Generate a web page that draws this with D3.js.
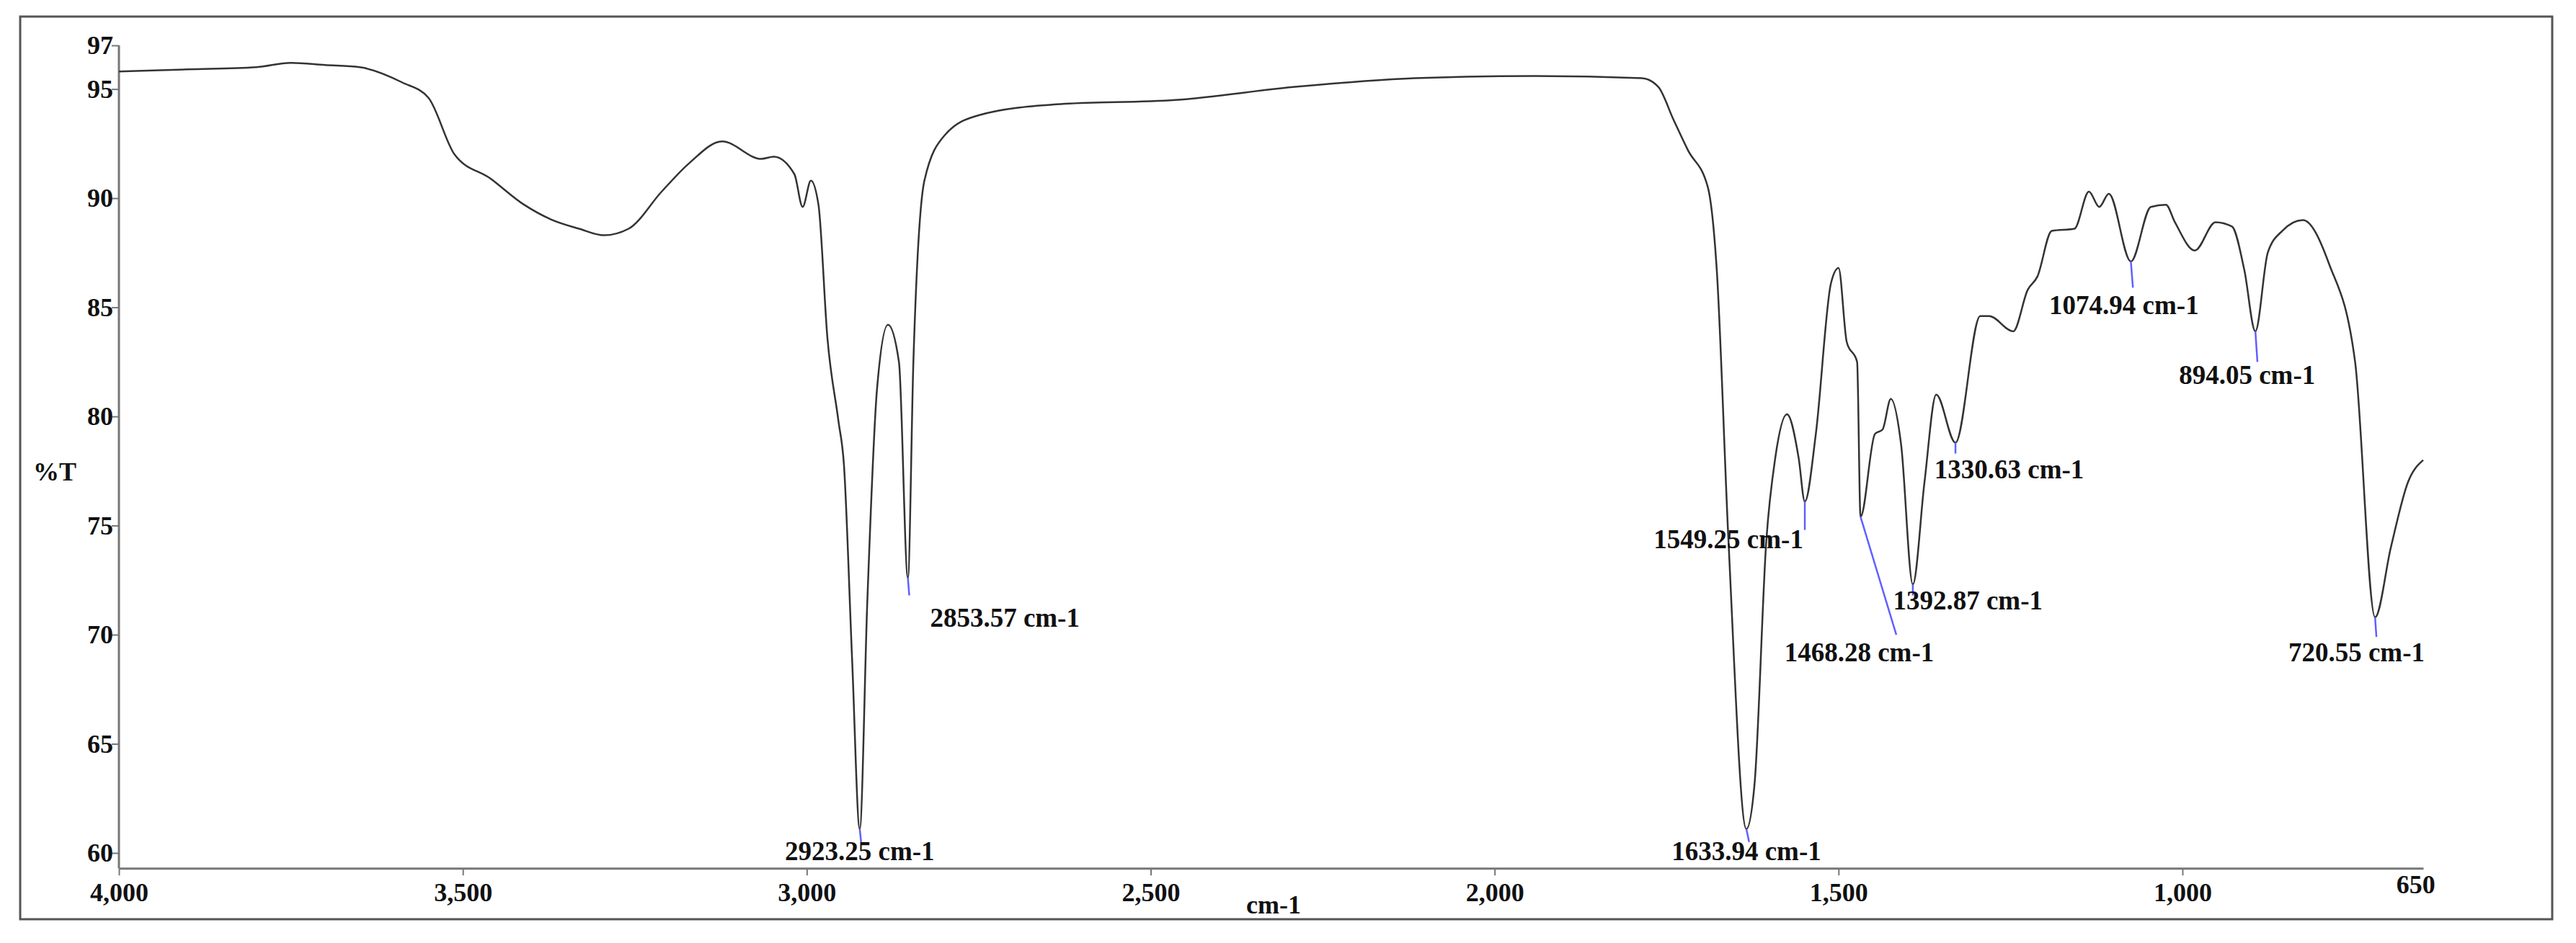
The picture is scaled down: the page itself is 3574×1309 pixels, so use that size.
<!DOCTYPE html>
<meta charset="utf-8">
<title>IR spectrum</title>
<style>
body { margin:0; background:#fff; }
text { font-family: "Liberation Serif", "DejaVu Serif", serif; font-weight: bold; fill:#111; }
</style>
<body>
<script src="https://cdn.jsdelivr.net/npm/d3@7"></script>
<script>

var wavenumber = [4000,3900,3800,3750,3700,3650,3588,3550,3512,3460,3411,3370,3331,3295,3259,3211,3171,3123,3066,3048,3018,3006,2994,2983,2970,2954,2946,2934,2923,2912,2898,2882,2866,2853,2845,2829,2799,2750,2637,2464,2290,2116,1942,1786,1762,1740,1719,1690,1677,1660,1634,1622,1605,1592,1575,1558,1549,1533,1511,1500,1488,1473,1468,1447,1436,1424,1409,1392,1375,1358,1330,1294,1281,1246,1225,1211,1190,1157,1136,1121,1107,1075,1046,1024,1011,982,952,928,910,894,876,855,825,787,749,720,697,672,650];
var transmittance = [95.8,95.9,96.0,96.2,96.1,96.0,95.3,94.6,92.0,90.9,89.7,89.0,88.6,88.3,88.6,90.3,91.6,92.6,91.8,91.9,91.1,89.6,90.8,89.7,83.6,79.8,77.8,68.8,61.1,71.5,81.2,84.2,82.5,72.6,82.5,90.8,92.9,93.8,94.3,94.5,95.1,95.5,95.6,95.5,95.1,93.6,92.2,90.5,86.7,74.3,61.1,63.2,74.3,78.1,80.1,78.1,76.1,79.2,86.1,86.8,83.4,82.5,75.4,79.2,79.4,80.8,78.7,72.3,77.0,81.0,78.8,84.6,84.6,83.9,85.8,86.4,88.5,88.6,90.3,89.6,90.2,87.1,89.6,89.7,88.9,87.6,88.9,88.7,86.7,83.9,87.5,88.5,89.0,87.0,82.5,70.8,74.0,77.0,78.0];

var yTicks = [97,95,90,85,80,75,70,65,60];
var xTicks = [4000,3500,3000,2500,2000,1500,1000];

// peak labels: text, peak wn, peak %T, leader end wn, leader end %T, label x wn, label %T
var peakNames = ["2923.25 cm-1","2853.57 cm-1","1633.94 cm-1","1549.25 cm-1","1468.28 cm-1","1392.87 cm-1","1330.63 cm-1","1074.94 cm-1","894.05 cm-1","720.55 cm-1"];
var peakWn    = [2923,2853,1634,1549,1468,1392,1330,1075,894,720];
var peakT     = [61.1,72.6,61.1,76.1,75.4,72.3,78.8,87.1,83.9,70.8];
var leadEndWn = [2921,2851,1630,1549,1416,1392,1330,1072,891,718];
var leadEndT  = [60.5,71.8,60.5,74.8,70.0,71.8,78.3,85.9,82.5,69.9];
var labelWn   = [2923,2712,1634,1660,1470,1312,1252,1085,906,747];
var labelT    = [60.1,70.8,60.1,74.4,69.2,71.6,77.6,85.1,81.9,69.2];

var W = 3574, H = 1309;
var svg = d3.select('body').append('svg').attr('width', W).attr('height', H);

svg.append('rect').attr('x', 28).attr('y', 23).attr('width', 3513).attr('height', 1253)
  .attr('fill', 'none').attr('stroke', '#555').attr('stroke-width', 3);

var x = d3.scaleLinear().domain([4000, 650]).range([165, 3362]);
var y = d3.scaleLinear().domain([60, 97]).range([1184, 63]);
var yBase = y(59.3);

svg.append('g').attr('transform', 'translate(0,' + yBase + ')')
  .call(d3.axisBottom(x).tickValues(xTicks.concat([650])).tickSize(10).tickSizeOuter(0))
  .call(function(g) {
    g.select('.domain').attr('stroke', '#777').attr('stroke-width', 3);
    g.selectAll('line').attr('stroke', '#777').attr('stroke-width', 2);
    g.selectAll('text').attr('font-size', 36).attr('dy', '0.9em')
      .attr('font-family', '"Liberation Serif", serif').attr('font-weight', 'bold');
    g.selectAll('.tick').filter(function(d) { return d === 650; }).select('line').remove();
    g.selectAll('.tick').filter(function(d) { return d === 650; }).select('text').attr('dy', '0.6em').attr('dx', '-0.3em');
  });

svg.append('g').attr('transform', 'translate(165,0)')
  .call(d3.axisLeft(y).tickValues(yTicks).tickSize(10).tickSizeOuter(0))
  .call(function(g) {
    g.select('.domain').attr('d', 'M0,' + y(97) + 'V' + yBase).attr('stroke', '#777').attr('stroke-width', 3);
    g.selectAll('line').attr('stroke', '#777').attr('stroke-width', 2);
    g.selectAll('text').attr('font-size', 36).attr('x', -8)
      .attr('font-family', '"Liberation Serif", serif').attr('font-weight', 'bold');
  });

svg.append('text').attr('x', 46).attr('y', 667).attr('font-size', 36).text('%T');
svg.append('text').attr('x', 1767).attr('y', 1268).attr('font-size', 36).attr('text-anchor', 'middle').text('cm-1');

var line = d3.line().x(function(d, i) { return x(wavenumber[i]); })
  .y(function(d) { return y(d); }).curve(d3.curveMonotoneX);

svg.append('path').datum(transmittance).attr('d', line)
  .attr('fill', 'none').attr('stroke', '#333').attr('stroke-width', 2.5);

var peaks = svg.append('g').selectAll('g').data(peakNames).enter().append('g');
peaks.append('line')
  .attr('x1', function(d, i) { return x(peakWn[i]); })
  .attr('y1', function(d, i) { return y(peakT[i]); })
  .attr('x2', function(d, i) { return x(leadEndWn[i]); })
  .attr('y2', function(d, i) { return y(leadEndT[i]); })
  .attr('stroke', '#6060ff').attr('stroke-width', 2.5);
peaks.append('text')
  .attr('x', function(d, i) { return x(labelWn[i]); })
  .attr('y', function(d, i) { return y(labelT[i]); })
  .attr('text-anchor', 'middle').attr('dy', '0.35em').attr('font-size', 37)
  .text(String);

</script>
